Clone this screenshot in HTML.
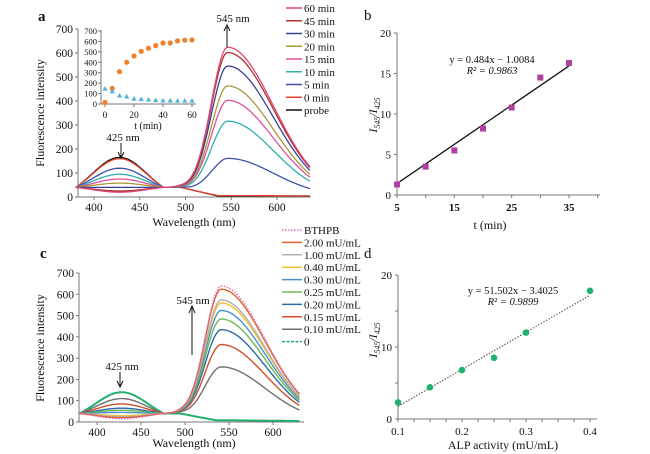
<!DOCTYPE html>
<html><head><meta charset="utf-8"><style>
body{margin:0;background:#fff}
svg{display:block;font-family:"Liberation Serif",serif}
</style></head><body>
<svg id="fig" width="650" height="454" viewBox="0 0 650 454" xmlns="http://www.w3.org/2000/svg"></svg>
<script>
// ---------- Panel a data ----------
const aSeries = ["60 min","45 min","30 min","20 min","15 min","10 min","5 min","0 min","probe"];
const aColors = ["#e0457a","#a8322c","#3a3f93","#a89a3a","#e0509a","#2fb0b0","#4050b0","#e8402a","#111111"];
const aPeak545 = [620,598,542,459,399,312,157,2,0];
const aPeak425 = [20,25,40,58,75,95,120,160,165];
const insetT = [0,5,10,15,20,25,30,35,40,45,50,55,60];
const insetOrange = [15,150,310,400,460,505,535,560,585,585,605,612,615];
const insetBlue = [145,120,80,70,50,45,40,35,32,32,30,30,30];
// ---------- Panel b data ----------
const bT = [5,10,15,20,25,30,35];
const bRatio = [1.3,3.5,5.5,8.2,10.8,14.5,16.3];
const bSlope = 0.484, bIntercept = -1.0084;
// ---------- Panel c data ----------
const cSeries = ["BTHPB","2.00 mU/mL","1.00 mU/mL","0.40 mU/mL","0.30 mU/mL","0.25 mU/mL","0.20 mU/mL","0.15 mU/mL","0.10 mU/mL","0"];
const cColors = ["#d070c0","#e8602a","#b0b0b0","#f5c030","#4a90d0","#70b850","#2a6aa8","#d0502a","#707070","#20b070"];
const cPeak545 = [635,620,570,555,520,480,430,360,255,4];
const cPeak425 = [15,20,25,30,45,55,65,85,110,140];
// ---------- Panel d data ----------
const dX = [0.1,0.15,0.2,0.25,0.3,0.4];
const dRatio = [2.3,4.4,6.8,8.5,12,17.8];
const dSlope = 51.502, dIntercept = -3.4025;

const svg = document.getElementById('fig');
const NS = "http://www.w3.org/2000/svg";
function mk(tag, attrs, parent){
  const e = document.createElementNS(NS, tag);
  for (const k in attrs) e.setAttribute(k, attrs[k]);
  (parent||svg).appendChild(e);
  return e;
}
function txt(x,y,s,size,anchor,parent,extra){
  const t = mk('text',Object.assign({x:x,y:y,'font-size':size,'text-anchor':anchor||'start',fill:'#111'},extra||{}),parent);
  t.textContent = s; return t;
}
function scale(d0,d1,r0,r1){return v=>r0+(v-d0)*(r1-r0)/(d1-d0);}

function spec(l, p545, p425, c545){
  const gRaw = Math.exp(-Math.pow((l-428)/30,2)/2);
  const g0 = Math.exp(-Math.pow((380-428)/30,2)/2);
  const g425 = Math.max(0,(gRaw-g0)/(1-g0));
  const w = l<495 ? 1 : Math.max(0.1, 1-(l-495)/45);
  let v = 40*w + (p425-40)*g425*(l<495?1:Math.max(0,1-(l-495)/25));
  const sig = l<c545 ? 18 : 50;
  v += p545*Math.exp(-Math.pow((l-c545)/sig,2)/2);
  return Math.max(v,2);
}

function axesSpectrum(g, xs, ys, x0,x1,y0,y1, xticks, yticks, prefix){
  mk('line',{x1:x0,y1:y0,x2:x0,y2:y1,stroke:'#777','stroke-width':1},g);
  const xa = mk('line',{x1:x0,y1:y0,x2:x1,y2:y0,stroke:'#777','stroke-width':1},g);
  
  yticks.forEach(v=>{
    const y=ys(v);
    mk('line',{x1:x0-3,y1:y,x2:x0,y2:y,stroke:'#777'},g);
    const t=txt(x0-5,y+4,String(v),11.5,'end',g);
    
    
  });
  xticks.forEach(v=>{
    const x=xs(v);
    mk('line',{x1:x,y1:y0,x2:x,y2:y0+3,stroke:'#777'},g);
    const t=txt(x,y0+14,String(v),11.5,'middle',g);
    
    
  });
}

// ================= Panel a =================
const ga = mk('g',{});  
const axs = scale(400,600,94,277), ays = scale(0,700,197,29);
axesSpectrum(ga,axs,ays,78,311,197,29,[400,450,500,550,600],[0,100,200,300,400,500,600,700],'a');
for(let i=aSeries.length-1;i>=0;i--){
  let d='';
  for(let l=380;l<=636;l+=2){d+=(l===380?'M':'L')+axs(l).toFixed(1)+','+ays(spec(l,aPeak545[i],aPeak425[i],546)).toFixed(1);}
  const p=mk('path',{d:d,fill:'none',stroke:aColors[i],'stroke-width':1.3},ga);
  
  
}
let t;
t=txt(38,21,'a',15,'start',ga,{'font-weight':'bold'});  
t=txt(0,0,'Fluorescence intensity',12,'middle',ga,{transform:'translate(44,113) rotate(-90)'});  
t=txt(194,226,'Wavelength (nm)',12,'middle',ga);  
t=txt(233,22,'545 nm',11,'middle',ga);  
mk('path',{d:'M227,47 L227,27 M224,31 L227,25 L230,31',stroke:'#111',fill:'none','stroke-width':1},ga);
t=txt(123,141,'425 nm',11,'middle',ga);  
mk('path',{d:'M121,143 L121,157 M118,152 L121,158 L124,152',stroke:'#111',fill:'none','stroke-width':1},ga);
aSeries.forEach((s,i)=>{
  const y=8+i*12.75;
  const l=mk('line',{x1:286,y1:y,x2:302,y2:y,stroke:aColors[i],'stroke-width':1.5},ga);
  
  const tt=txt(304,y+4,s,11,'start',ga);
   
});
const gi = mk('g',{},ga);  
const ixs = scale(0,60,105,192), iys = scale(0,700,104,31);
mk('line',{x1:101,y1:104,x2:101,y2:30,stroke:'#777'},gi);
mk('line',{x1:101,y1:104,x2:196,y2:104,stroke:'#777'},gi);
[0,100,200,300,400,500,600,700].forEach(v=>{mk('line',{x1:98,y1:iys(v),x2:101,y2:iys(v),stroke:'#777'},gi);txt(97,iys(v)+3,String(v),8.5,'end',gi);});
[0,20,40,60].forEach(v=>{mk('line',{x1:ixs(v),y1:104,x2:ixs(v),y2:107,stroke:'#777'},gi);txt(ixs(v),118,String(v),9.5,'middle',gi);});
txt(148,129,'t (min)',10,'middle',gi);
insetT.forEach((v,i)=>{
  const c=mk('circle',{cx:ixs(v),cy:iys(insetOrange[i]),r:2.6,fill:'#f0802a'},gi);
  
  const x=ixs(v),y=iys(insetBlue[i]);
  const tr=mk('path',{d:`M${x},${y-2.8} L${x+2.6},${y+1.8} L${x-2.6},${y+1.8}Z`,fill:'#50b0e0'},gi);
  
});

// ================= Panel c =================
const gc = mk('g',{});  
const cxs = scale(400,600,97,273), cys = scale(0,700,422,273);
axesSpectrum(gc,cxs,cys,79,304,422,273,[400,450,500,550,600],[0,100,200,300,400,500,600,700],'c');
for(let i=cSeries.length-1;i>=0;i--){
  let d='';
  for(let l=380;l<=630;l+=2){d+=(l===380?'M':'L')+cxs(l).toFixed(1)+','+cys(spec(l,cPeak545[i],cPeak425[i],541)).toFixed(1);}
  const attrs={d:d,fill:'none',stroke:cColors[i],'stroke-width':i===9?2:1.4};
  if(i===0) attrs['stroke-dasharray']='1.5,1.5';
  const p=mk('path',attrs,gc);
  
  
}
t=txt(40,258,'c',15,'start',gc,{'font-weight':'bold'});  
t=txt(0,0,'Fluorescence intensity',12,'middle',gc,{transform:'translate(44,348) rotate(-90)'});  
t=txt(194,447,'Wavelength (nm)',12,'middle',gc);  
t=txt(193,304,'545 nm',11,'middle',gc);  
mk('path',{d:'M192,355 L192,308 M189,313 L192,306 L195,313',stroke:'#111',fill:'none','stroke-width':1},gc);
t=txt(122,370,'425 nm',11,'middle',gc);  
mk('path',{d:'M120,372 L120,386 M117,381 L120,387 L123,381',stroke:'#111',fill:'none','stroke-width':1},gc);
cSeries.forEach((s,i)=>{
  const y=230+i*12.4;
  const a={x1:282,y1:y,x2:302,y2:y,stroke:cColors[i],'stroke-width':1.5};
  if(i===0)a['stroke-dasharray']='1.5,1.5';
  if(i===9)a['stroke-dasharray']='3,1.5';
  const l=mk('line',a,gc); 
  const tt=txt(304,y+4,s,11,'start',gc);
   
});

// ================= Panel b =================
const gb = mk('g',{});  
const bxs = scale(5,35,397,569), bys = scale(0,20,195,33);
mk('line',{x1:397,y1:195,x2:397,y2:33,stroke:'#777'},gb);
mk('line',{x1:397,y1:195,x2:600,y2:195,stroke:'#777'},gb);
[0,5,10,15,20].forEach(v=>{mk('line',{x1:394,y1:bys(v),x2:397,y2:bys(v),stroke:'#777'},gb);const q=txt(391,bys(v)+4,String(v),11,'end',gb);});
[5,10,15,20,25,30,35,40].forEach(v=>{mk('line',{x1:bxs(v),y1:195,x2:bxs(v),y2:198,stroke:'#777'},gb);});
[5,15,25,35].forEach(v=>{const q=txt(bxs(v),211,String(v),11,'middle',gb,{'font-weight':'bold'});});
const bl=mk('line',{x1:bxs(5),y1:bys(bSlope*5+bIntercept),x2:bxs(35),y2:bys(bSlope*35+bIntercept),stroke:'#111','stroke-width':1.3},gb);
 
bT.forEach((v,i)=>{const r=mk('rect',{x:bxs(v)-3,y:bys(bRatio[i])-3,width:6,height:6,fill:'#b040a0'},gb);});
t=txt(364,20,'b',15,'start',gb);  
t=txt(492,63,'y = 0.484x − 1.0084',10.5,'middle',gb);  
t=txt(492,74,'R² = 0.9863',10.5,'middle',gb,{'font-style':'italic'});  
t=txt(490,229,'t (min)',12,'middle',gb);  
t=mk('text',{transform:'translate(377,115) rotate(-90)','font-size':12,'text-anchor':'middle',fill:'#111','font-style':'italic'},gb);
t.innerHTML='I<tspan font-size="8" dy="3">545</tspan><tspan dy="-3">/I</tspan><tspan font-size="8" dy="3">425</tspan>';
 

// ================= Panel d =================
const gd = mk('g',{});  
const dxs = scale(0.1,0.4,398,590), dys = scale(0,20,419,275);
mk('line',{x1:398,y1:419,x2:398,y2:275,stroke:'#777'},gd);
mk('line',{x1:398,y1:419,x2:597,y2:419,stroke:'#777'},gd);
[0,5,10,15,20].forEach(v=>{mk('line',{x1:395,y1:dys(v),x2:398,y2:dys(v),stroke:'#777'},gd);});
[0,10,20].forEach(v=>{const q=txt(392,dys(v)+4,String(v),11,'end',gd);});
for(let k=0;k<=12;k++){const v=0.1+k*0.025;mk('line',{x1:dxs(v),y1:419,x2:dxs(v),y2:422,stroke:'#777'},gd);}
[0.1,0.2,0.3,0.4].forEach(v=>{const q=txt(dxs(v),435,String(v),11,'middle',gd);});
const dl=mk('line',{x1:dxs(0.1),y1:dys(dSlope*0.1+dIntercept),x2:dxs(0.4),y2:dys(dSlope*0.4+dIntercept),stroke:'#555','stroke-width':1.1,'stroke-dasharray':'1.5,1.5'},gd);
 
dX.forEach((v,i)=>{const c=mk('circle',{cx:dxs(v),cy:dys(dRatio[i]),r:3.3,fill:'#20b070'},gd);});
t=txt(364,258,'d',15,'start',gd);  
t=txt(513,294,'y = 51.502x − 3.4025',10.5,'middle',gd);  
t=txt(513,305,'R² = 0.9899',10.5,'middle',gd,{'font-style':'italic'});  
t=txt(503,449,'ALP activity (mU/mL)',12,'middle',gd);  
t=mk('text',{transform:'translate(377,340) rotate(-90)','font-size':12,'text-anchor':'middle',fill:'#111','font-style':'italic'},gd);
t.innerHTML='I<tspan font-size="8" dy="3">545</tspan><tspan dy="-3">/I</tspan><tspan font-size="8" dy="3">425</tspan>';
 
</script>
</body></html>
